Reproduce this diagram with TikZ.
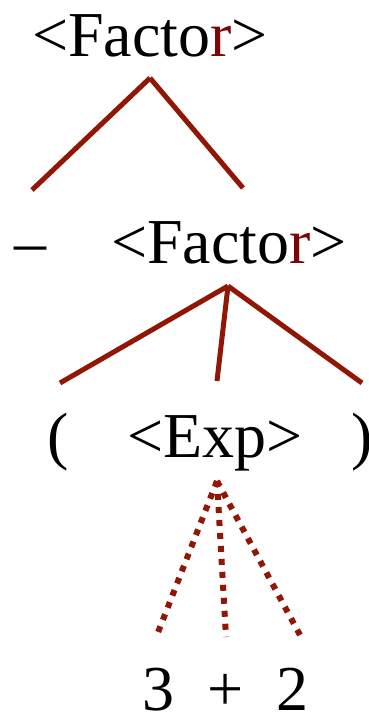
\documentclass[tikz,border=0pt]{standalone}
\usepackage{fontspec}
\setmainfont{Liberation Serif}
\usepackage{xcolor}
\usetikzlibrary{positioning}
\definecolor{branchred}{RGB}{145,22,5}
\definecolor{termred}{RGB}{125,5,5}
\tikzset{
  sym/.style={anchor=base, inner sep=0pt, font=\fontsize{64}{76}\selectfont},
  branch/.style={draw=branchred, line width=5pt},
  dotbranch/.style={draw=branchred, line width=6pt, dash pattern=on 6pt off 7pt}
}
\newcommand{\factorsym}{<Facto\textcolor{termred}{r}>}

\begin{document}
\begin{tikzpicture}[x=1pt, y=-1pt]
\useasboundingbox (0,0) rectangle (368,716);
% symbols
\node[sym] (factA) at (150,56) {\factorsym};
\node[sym] (minus) at (31,263) {–};
\node[sym] (factB) at (229,263) {\factorsym};
\node[sym] (lpar) at (58,457) {(};
\node[sym] (expr) at (215,457) {<Exp>};
\node[sym] (rpar) at (362,457) {)};
\node[sym] (three) at (158,710) {3};
\node[sym] (plus) at (226,710) {+};
\node[sym] (two) at (292,710) {2};
% branch ends
\coordinate (factAtip) at (150,78);
\coordinate (minusend) at (32,190);
\coordinate (factBend) at (243,188);
\coordinate (factBtip) at (228,286);
\coordinate (lparend) at (60,383);
\coordinate (exprend) at (217,381);
\coordinate (rparend) at (362,383);
\coordinate (exprtip) at (217,481);
\coordinate (threeend) at (157,635);
\coordinate (plusend) at (226,637);
\coordinate (twoend) at (300,635);
\draw[branch] (factAtip) -- (minusend);
\draw[branch] (factAtip) -- (factBend);
\draw[branch] (factBtip) -- (lparend);
\draw[branch] (factBtip) -- (exprend);
\draw[branch] (factBtip) -- (rparend);
\draw[dotbranch] (exprtip) -- (threeend);
\draw[dotbranch] (exprtip) -- (plusend);
\draw[dotbranch] (exprtip) -- (twoend);
\end{tikzpicture}
\end{document}
